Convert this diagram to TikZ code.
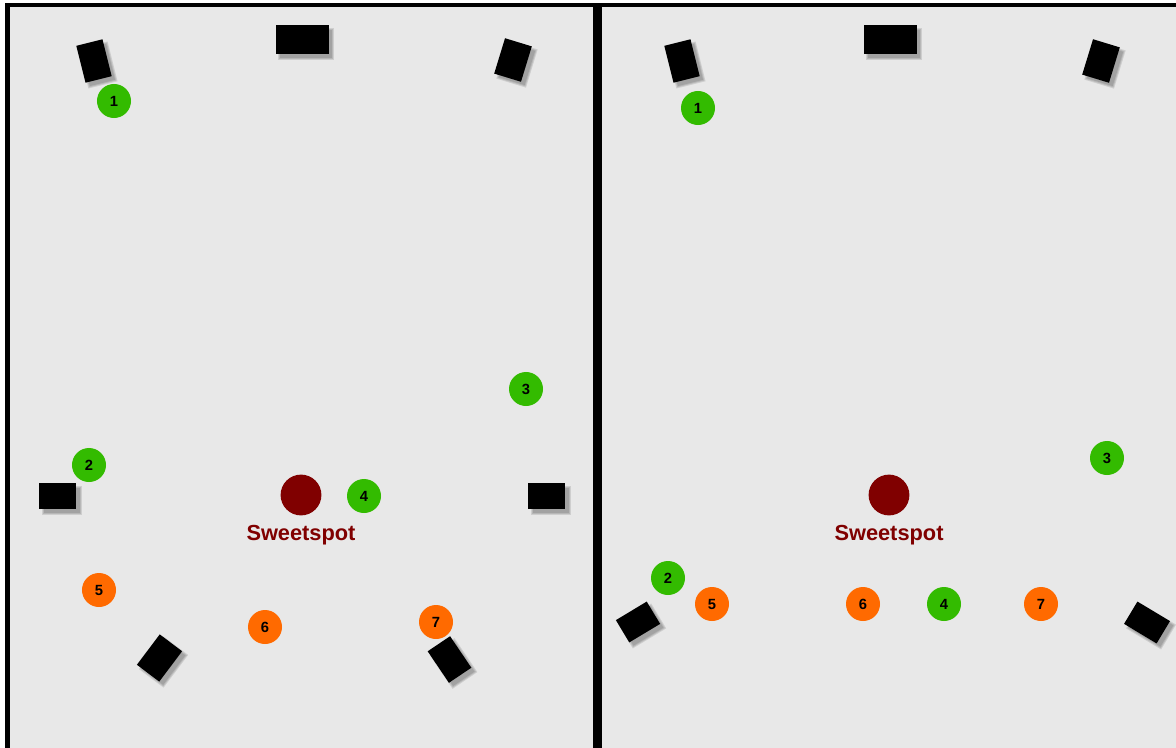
\documentclass[tikz,border=0pt]{standalone}
\usepackage{fontspec}
\setmainfont{Liberation Sans}

\definecolor{bgGray}{HTML}{E8E8E8}
\definecolor{spkGreen}{HTML}{33BB00}
\definecolor{spkOrange}{HTML}{FF6A00}
\definecolor{spotRed}{HTML}{800000}

\begin{document}
\begin{tikzpicture}[x=0.025cm, y=-0.025cm]
    % Styling
    \tikzset{
        c_panel/.style={fill=bgGray, draw=black, line width=3.3pt},
        c_speaker/.style={fill=black, inner sep=0pt},
        c_shadow/.style={fill=black, opacity=0.11, inner sep=0pt},
        c_dot/.style={circle, inner sep=0pt, minimum size=0.85cm,
            font=\fontsize{10.5}{10.5}\selectfont\bfseries},
        c_green/.style={c_dot, fill=spkGreen},
        c_orange/.style={c_dot, fill=spkOrange},
        c_spot/.style={circle, fill=spotRed, inner sep=0pt, minimum size=1.02cm},
        c_label/.style={text=spotRed, font=\fontsize{15.5}{15.5}\selectfont\bfseries}
    }

    \useasboundingbox (0,0) rectangle (1176,748);
    \clip (0,0) rectangle (1176,748);

    % Panels
    \draw[c_panel] (7.5,5) rectangle (595.3,770);
    \draw[c_panel] (599.7,5) rectangle (1200,770);

    % Speakers (name/x/y/width/height/angle), soft shadow first
    \foreach \n/\x/\y/\w/\h/\a in {
        Ltl/94/61/27/38/14, Ltc/302/40/53/29/0, Ltr/513/60/28/37/-17,
        Lml/57.5/496/37/26/0, Lmr/546.5/496/37/26/0,
        Lbl/159.5/658/28/38/-37, Lbr/449.5/659.5/27/38/34,
        Rtl/682/61/27/38/14, Rtc/890/40/53/29/0, Rtr/1101/61/28/37/-17,
        Rbl/638/622/36/26/31, Rbr/1147/622.5/38/26/-31} {
        \foreach \g in {-1,1,3} {
            \node[c_shadow, rotate=\a, minimum width=(\w+\g)*0.025cm,
                minimum height=(\h+\g)*0.025cm] (\n-sh\g) at (\x+4,\y+4) {};
        }
        \node[c_speaker, rotate=\a, minimum width=\w*0.025cm, minimum height=\h*0.025cm]
            (\n) at (\x,\y) {};
    }

    % Sweetspots
    \foreach \p/\x in {L/301, R/889} {
        \node[c_spot] (\p spot) at (\x,495) {};
        \node[c_label] (\p label) at (\x,535) {Sweetspot};
    }

    % Listening positions, left panel
    \foreach \n/\x/\y/\s in {1/114/101/c_green, 2/89/465/c_green, 3/526/389/c_green,
        4/364/496/c_green, 5/99/590/c_orange, 6/265/627/c_orange, 7/436/622/c_orange} {
        \node[\s] (L\n) at (\x,\y) {\n};
    }

    % Listening positions, right panel
    \foreach \n/\x/\y/\s in {1/698/108/c_green, 2/668/578/c_green, 3/1107/458/c_green,
        4/944/604/c_green, 5/712/604/c_orange, 6/863/604/c_orange, 7/1041/604/c_orange} {
        \node[\s] (R\n) at (\x,\y) {\n};
    }
\end{tikzpicture}
\end{document}
